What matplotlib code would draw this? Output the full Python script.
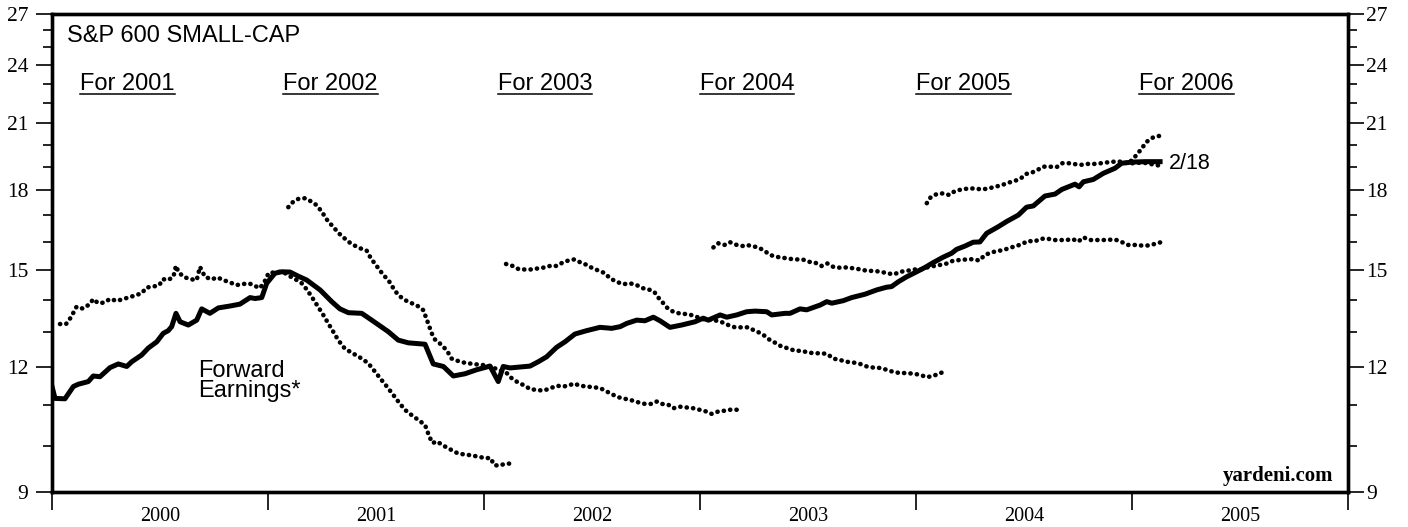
import matplotlib
matplotlib.use("Agg")
import matplotlib.pyplot as plt
from matplotlib.lines import Line2D
from matplotlib.ticker import NullFormatter
from matplotlib.transforms import IdentityTransform

# ---------------- data (decimal year, value) ----------------
fwd_t = [2000.000, 2000.014, 2000.060, 2000.099, 2000.122, 2000.168, 2000.191, 2000.222,
         2000.269, 2000.307, 2000.346, 2000.369, 2000.415, 2000.446, 2000.485, 2000.515,
         2000.538, 2000.554, 2000.574, 2000.593, 2000.631, 2000.670, 2000.693, 2000.731,
         2000.770, 2000.824, 2000.870, 2000.917, 2000.940, 2000.971, 2000.994, 2001.032,
         2001.063, 2001.102, 2001.140, 2001.179, 2001.241, 2001.295, 2001.333, 2001.372,
         2001.434, 2001.480, 2001.557, 2001.603, 2001.650, 2001.727, 2001.765, 2001.812,
         2001.858, 2001.912, 2001.966, 2002.028, 2002.066, 2002.089, 2002.120, 2002.213,
         2002.251, 2002.290, 2002.336, 2002.375, 2002.421, 2002.475, 2002.537, 2002.591,
         2002.630, 2002.661, 2002.707, 2002.745, 2002.784, 2002.815, 2002.861, 2002.915,
         2002.977, 2003.015, 2003.038, 2003.069, 2003.093, 2003.124, 2003.170, 2003.216,
         2003.255, 2003.309, 2003.332, 2003.394, 2003.417, 2003.463, 2003.494, 2003.556,
         2003.587, 2003.610, 2003.663, 2003.702, 2003.764, 2003.818, 2003.864, 2003.887,
         2003.918, 2003.957, 2003.995, 2004.042, 2004.080, 2004.126, 2004.165, 2004.188,
         2004.227, 2004.265, 2004.296, 2004.327, 2004.381, 2004.420, 2004.474, 2004.512,
         2004.543, 2004.597, 2004.644, 2004.675, 2004.736, 2004.755, 2004.775, 2004.821,
         2004.867, 2004.921, 2004.952, 2004.999, 2005.060, 2005.130]
fwd_v = [11.47, 11.16, 11.15, 11.47, 11.53, 11.60, 11.75, 11.73,
         11.98, 12.08, 12.01, 12.14, 12.33, 12.53, 12.71, 12.96,
         13.04, 13.16, 13.57, 13.31, 13.21, 13.36, 13.71, 13.57,
         13.74, 13.80, 13.86, 14.07, 14.04, 14.07, 14.54, 14.88,
         14.93, 14.92, 14.78, 14.65, 14.32, 13.94, 13.71, 13.59,
         13.57, 13.36, 13.01, 12.76, 12.68, 12.64, 12.08, 12.01,
         11.75, 11.81, 11.92, 12.02, 11.60, 12.01, 11.97, 12.02,
         12.14, 12.28, 12.55, 12.71, 12.94, 13.04, 13.14, 13.11,
         13.16, 13.26, 13.36, 13.34, 13.45, 13.34, 13.14, 13.21,
         13.31, 13.42, 13.36, 13.45, 13.52, 13.45, 13.52, 13.62,
         13.64, 13.62, 13.52, 13.57, 13.57, 13.71, 13.68, 13.83,
         13.94, 13.89, 13.97, 14.07, 14.18, 14.32, 14.41, 14.43,
         14.59, 14.76, 14.90, 15.08, 15.25, 15.44, 15.58, 15.72,
         15.84, 15.98, 15.99, 16.31, 16.56, 16.76, 17.01, 17.32,
         17.37, 17.77, 17.85, 18.04, 18.26, 18.15, 18.36, 18.46,
         18.72, 18.94, 19.16, 19.21, 19.23, 19.23]

e2001_t = [2000.037, 2000.065, 2000.087, 2000.114, 2000.142, 2000.173, 2000.191, 2000.214,
           2000.242, 2000.269, 2000.300, 2000.327, 2000.358, 2000.389, 2000.415, 2000.438,
           2000.469, 2000.497, 2000.513, 2000.538, 2000.562, 2000.574, 2000.585, 2000.608,
           2000.639, 2000.670, 2000.685, 2000.708, 2000.739, 2000.765, 2000.793, 2000.827,
           2000.855, 2000.878, 2000.912, 2000.940, 2000.963, 2000.994, 2001.001, 2001.048,
           2001.079, 2001.110, 2001.133, 2001.156, 2001.179, 2001.202, 2001.225, 2001.256,
           2001.279, 2001.302, 2001.325, 2001.356, 2001.395, 2001.434, 2001.464, 2001.495,
           2001.526, 2001.550, 2001.580, 2001.603, 2001.634, 2001.665, 2001.696, 2001.727,
           2001.747, 2001.762, 2001.781, 2001.827, 2001.881, 2001.943, 2002.005, 2002.031,
           2002.046, 2002.066, 2002.097, 2002.124]
e2001_v = [13.24, 13.24, 13.44, 13.78, 13.72, 13.85, 14.02, 13.89,
           13.91, 14.03, 13.96, 14.02, 14.08, 14.15, 14.21, 14.40,
           14.43, 14.48, 14.68, 14.65, 14.76, 15.14, 14.93, 14.76,
           14.68, 14.65, 15.10, 14.76, 14.67, 14.74, 14.65, 14.56,
           14.48, 14.51, 14.54, 14.45, 14.38, 14.71, 14.88, 14.93,
           14.88, 14.74, 14.65, 14.54, 14.34, 14.10, 13.85, 13.52,
           13.26, 13.01, 12.76, 12.51, 12.37, 12.23, 12.10, 11.87,
           11.64, 11.47, 11.25, 11.08, 10.87, 10.74, 10.62, 10.50,
           10.22, 10.07, 10.11, 9.97, 9.83, 9.79, 9.73, 9.73,
           9.58, 9.56, 9.60, 9.61]

e2002_t = [2001.094, 2001.117, 2001.140, 2001.171, 2001.202, 2001.225, 2001.249, 2001.279,
           2001.302, 2001.325, 2001.349, 2001.372, 2001.395, 2001.426, 2001.457, 2001.472,
           2001.488, 2001.511, 2001.534, 2001.557, 2001.580, 2001.603, 2001.634, 2001.665,
           2001.693, 2001.719, 2001.735, 2001.747, 2001.758, 2001.773, 2001.796, 2001.827,
           2001.850, 2001.881, 2001.912, 2001.950, 2001.989, 2002.012, 2002.105, 2002.128,
           2002.159, 2002.190, 2002.213, 2002.244, 2002.275, 2002.306, 2002.337, 2002.367,
           2002.390, 2002.417, 2002.444, 2002.475, 2002.506, 2002.537, 2002.568, 2002.591,
           2002.622, 2002.653, 2002.684, 2002.714, 2002.745, 2002.776, 2002.800, 2002.823,
           2002.853, 2002.876, 2002.907, 2002.938, 2002.969, 2003.000, 2003.023, 2003.054,
           2003.085, 2003.116, 2003.147, 2003.177]
e2002_v = [17.32, 17.54, 17.65, 17.68, 17.54, 17.40, 17.14, 16.75,
           16.56, 16.33, 16.16, 16.00, 15.88, 15.76, 15.67, 15.46,
           15.28, 15.05, 14.82, 14.65, 14.38, 14.15, 13.99, 13.89,
           13.80, 13.67, 13.38, 13.16, 12.96, 12.78, 12.66, 12.47,
           12.23, 12.16, 12.11, 12.08, 12.05, 12.05, 11.83, 11.69,
           11.57, 11.49, 11.40, 11.38, 11.36, 11.42, 11.49, 11.47,
           11.49, 11.55, 11.49, 11.47, 11.45, 11.43, 11.34, 11.27,
           11.19, 11.15, 11.11, 11.06, 11.02, 11.02, 11.08, 11.02,
           11.00, 10.91, 10.95, 10.93, 10.91, 10.87, 10.84, 10.77,
           10.83, 10.85, 10.88, 10.87]

e2003_t = [2002.102, 2002.133, 2002.163, 2002.194, 2002.225, 2002.251, 2002.282, 2002.309,
           2002.337, 2002.364, 2002.390, 2002.417, 2002.448, 2002.475, 2002.503, 2002.534,
           2002.560, 2002.583, 2002.614, 2002.645, 2002.676, 2002.707, 2002.733, 2002.761,
           2002.788, 2002.807, 2002.830, 2002.850, 2002.876, 2002.903, 2002.931, 2002.958,
           2002.989, 2003.020, 2003.051, 2003.082, 2003.108, 2003.131, 2003.162, 2003.193,
           2003.224, 2003.247, 2003.275, 2003.301, 2003.324, 2003.355, 2003.378, 2003.409,
           2003.440, 2003.471, 2003.501, 2003.532, 2003.563, 2003.589, 2003.617, 2003.648,
           2003.679, 2003.710, 2003.741, 2003.772, 2003.802, 2003.833, 2003.864, 2003.895,
           2003.926, 2003.957, 2003.991, 2004.019, 2004.050, 2004.080, 2004.111, 2004.134]
e2003_v = [15.20, 15.13, 15.01, 15.01, 15.01, 15.05, 15.08, 15.14,
           15.13, 15.25, 15.32, 15.36, 15.25, 15.17, 15.05, 14.96,
           14.88, 14.71, 14.59, 14.51, 14.54, 14.48, 14.38, 14.34,
           14.26, 14.07, 13.89, 13.73, 13.62, 13.57, 13.55, 13.52,
           13.45, 13.38, 13.36, 13.34, 13.28, 13.21, 13.14, 13.14,
           13.14, 13.06, 12.98, 12.88, 12.76, 12.66, 12.57, 12.52,
           12.45, 12.45, 12.40, 12.38, 12.38, 12.36, 12.23, 12.19,
           12.14, 12.12, 12.08, 12.01, 11.98, 11.97, 11.92, 11.86,
           11.83, 11.83, 11.81, 11.78, 11.72, 11.75, 11.83, 11.86]

e2004_t = [2003.062, 2003.085, 2003.113, 2003.139, 2003.170, 2003.196, 2003.216, 2003.239,
           2003.270, 2003.298, 2003.324, 2003.350, 2003.378, 2003.406, 2003.432, 2003.475,
           2003.501, 2003.532, 2003.563, 2003.589, 2003.617, 2003.648, 2003.679, 2003.710,
           2003.744, 2003.775, 2003.806, 2003.837, 2003.867, 2003.898, 2003.926, 2003.957,
           2003.991, 2004.022, 2004.052, 2004.083, 2004.114, 2004.145, 2004.173, 2004.204,
           2004.235, 2004.265, 2004.293, 2004.319, 2004.347, 2004.374, 2004.404, 2004.435,
           2004.466, 2004.497, 2004.520, 2004.548, 2004.574, 2004.605, 2004.636, 2004.667,
           2004.698, 2004.724, 2004.751, 2004.775, 2004.806, 2004.867, 2004.921, 2004.949,
           2004.980, 2005.011, 2005.042, 2005.073, 2005.103, 2005.134]
e2004_v = [15.79, 15.94, 15.88, 15.98, 15.88, 15.84, 15.88, 15.84,
           15.79, 15.67, 15.52, 15.46, 15.42, 15.40, 15.36, 15.36,
           15.28, 15.25, 15.13, 15.22, 15.10, 15.07, 15.08, 15.05,
           15.01, 14.96, 14.96, 14.93, 14.88, 14.84, 14.93, 14.96,
           15.01, 15.01, 15.08, 15.13, 15.17, 15.22, 15.32, 15.34,
           15.36, 15.37, 15.32, 15.52, 15.60, 15.66, 15.69, 15.78,
           15.84, 15.94, 16.03, 16.00, 16.10, 16.12, 16.06, 16.06,
           16.06, 16.10, 16.00, 16.16, 16.06, 16.06, 16.08, 16.00,
           15.88, 15.88, 15.86, 15.86, 15.91, 15.98]

e2005_t = [2004.050, 2004.068, 2004.096, 2004.126, 2004.154, 2004.181, 2004.212, 2004.242,
           2004.273, 2004.304, 2004.335, 2004.366, 2004.397, 2004.427, 2004.458, 2004.485,
           2004.508, 2004.536, 2004.563, 2004.589, 2004.620, 2004.651, 2004.677, 2004.708,
           2004.736, 2004.764, 2004.795, 2004.825, 2004.856, 2004.887, 2004.918, 2004.949,
           2004.980, 2005.011, 2005.042, 2005.073, 2005.103, 2005.134]
e2005_v = [17.48, 17.72, 17.85, 17.88, 17.81, 17.98, 18.04, 18.08,
           18.08, 18.04, 18.08, 18.15, 18.22, 18.32, 18.40, 18.50,
           18.69, 18.75, 18.87, 19.01, 19.01, 18.99, 19.16, 19.16,
           19.12, 19.09, 19.13, 19.13, 19.16, 19.20, 19.23, 19.23,
           19.16, 19.16, 19.19, 19.16, 19.09, 19.05]

e2006_t = [2004.995, 2005.014, 2005.037, 2005.068, 2005.099, 2005.130]
e2006_v = [19.26, 19.45, 19.72, 20.13, 20.34, 20.41]

estimate_labels = ["For 2001", "For 2002", "For 2003", "For 2004", "For 2005", "For 2006"]
year_labels = ["2000", "2001", "2002", "2003", "2004", "2005"]
y_major = [9, 12, 15, 18, 21, 24, 27]
y_minor = [10, 11, 13, 14, 16, 17, 19, 20, 22, 23, 25, 26]
last_date_label = "2/18"

# ---------------- figure ----------------
W, H = 1408, 527
fig = plt.figure(figsize=(W / 100, H / 100), dpi=100)
ax = fig.add_axes([52 / W, 35 / H, 1296 / W, 478 / H])
ax2 = ax.twinx()

for a in (ax, ax2):
    a.set_yscale("log")
    a.set_ylim(9, 27)
    a.set_yticks(y_major, [str(v) for v in y_major])
    a.set_yticks(y_minor, minor=True)
    a.yaxis.set_minor_formatter(NullFormatter())
    for sp in a.spines.values():
        sp.set_linewidth(2.4)
ax.set_xlim(2000, 2006)

serif = "Liberation Serif"
sans = "Liberation Sans"

ax.tick_params(axis="y", which="major", direction="out", length=11.5, width=1.2,
               labelsize=15.5, pad=5.5, labelfontfamily=serif)
ax.tick_params(axis="y", which="minor", direction="out", length=6.5, width=1.2)
ax2.tick_params(axis="y", which="major", direction="out", length=11.5, width=1.2,
                labelsize=15.5, pad=1.5, labelfontfamily=serif)
ax2.tick_params(axis="y", which="minor", direction="out", length=6.5, width=1.2)

years = list(range(2000, 2007))
ax.set_xticks(years, [""] * len(years))
ax.set_xticks([y + 0.5 for y in years[:-1]], year_labels, minor=True)
ax.tick_params(axis="x", which="major", direction="out", length=13, width=1.2)
ax.tick_params(axis="x", which="minor", length=0, pad=11, labelsize=14.5,
               labelfontfamily=serif)

# ---------------- series ----------------
dot = dict(color="black", lw=3.3, linestyle=(0, (0.05, 1.35)), dash_capstyle="round")
for t, v in [(e2001_t, e2001_v), (e2002_t, e2002_v), (e2003_t, e2003_v),
             (e2004_t, e2004_v), (e2005_t, e2005_v), (e2006_t, e2006_v)]:
    ax.plot(t, v, **dot)
ax.plot(fwd_t, fwd_v, color="black", lw=3.6, solid_joinstyle="round")

# ---------------- text ----------------
ax.text(0.0113, 0.942, "S&P 600 SMALL-CAP", transform=ax.transAxes, ha="left",
        va="baseline", fontsize=17, family=sans)

label_x = [2000.35, 2001.289, 2002.282, 2003.218, 2004.22, 2005.252]
label_texts = []
for xpos, lab in zip(label_x, estimate_labels):
    tt = ax.text(xpos, 0.841, lab, transform=ax.get_xaxis_transform(), ha="center",
                 va="baseline", fontsize=17, family=sans)
    label_texts.append(tt)

ax.text(0.1127, 0.276, "Forward\nEarnings*", transform=ax.transAxes, ha="left",
        va="top", fontsize=17, family=sans, linespacing=0.88)

ax.annotate(last_date_label, xy=(fwd_t[-1], fwd_v[-1]), xytext=(6, -1),
            textcoords="offset points", ha="left", va="center", fontsize=15.5,
            family=sans)

ax.text(0.9884, 0.0236, "yardeni.com", transform=ax.transAxes, ha="right",
        va="baseline", fontsize=15, family=serif, fontweight="bold")

# underline the estimate labels
fig.canvas.draw()
renderer = fig.canvas.get_renderer()
base_y = ax.transAxes.transform((0, 0.841))[1]
for tt in label_texts:
    bb = tt.get_window_extent(renderer)
    fig.add_artist(Line2D([bb.x0, bb.x1], [base_y - 4, base_y - 4], color="black",
                          lw=1.1, transform=IdentityTransform()))

fig.savefig("out.png", dpi=100)
